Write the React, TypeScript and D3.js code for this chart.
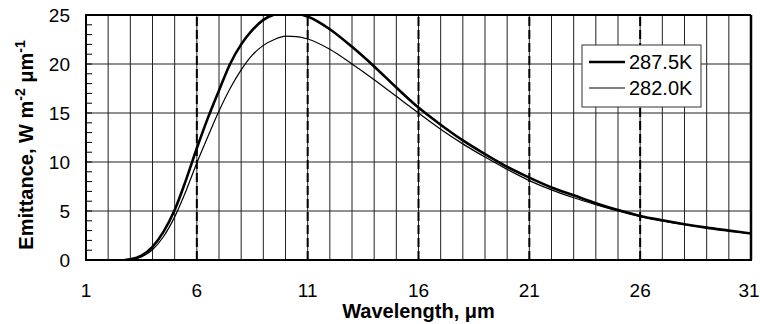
import React from "react";
import * as d3 from "d3";

// wavelength (µm) and emittance (W m-2 µm-1)
const wavelengths = [
  2.75, 3, 3.5, 4, 4.5, 5, 5.5, 6, 6.5, 7, 7.5, 8, 8.5, 9, 9.5, 10, 10.5, 11,
  12, 13, 14, 15, 16, 17, 18, 19, 20, 21, 22, 23, 24, 25, 26, 27, 28, 29, 30, 31,
];
const emit2875 = [
  0, 0.08, 0.45, 1.35, 2.9, 5.1, 8.1, 11.4, 14.5, 17.3, 20.0, 22.0, 23.45, 24.5,
  25.05, 25.25, 25.15, 24.85, 23.55, 21.75, 19.75, 17.6, 15.55, 13.8, 12.2,
  10.8, 9.5, 8.4, 7.4, 6.6, 5.8, 5.1, 4.5, 4.05, 3.65, 3.3, 3.0, 2.7,
];
const emit2820 = [
  0, 0.05, 0.32, 1.05, 2.4, 4.4, 7.0, 9.9, 12.6, 15.2, 17.5, 19.4, 20.9, 21.9,
  22.5, 22.85, 22.8, 22.55, 21.5, 20.0, 18.4, 16.7, 15.0, 13.35, 11.85, 10.5,
  9.25, 8.1, 7.15, 6.35, 5.65, 5.0, 4.45, 4.0, 3.6, 3.27, 2.97, 2.68,
];
const seriesNames = ["287.5K", "282.0K"];
const xTicks = [1, 6, 11, 16, 21, 26, 31];
const yTicks = [0, 5, 10, 15, 20, 25];

const W = 760;
const H = 324;
const FONT = "Arial, 'Liberation Sans', sans-serif";

export default function App() {
  const x = d3.scaleLinear().domain([1, 31]).range([86, 751]);
  const y = d3.scaleLinear().domain([0, 25]).range([260, 15]);

  const line = d3
    .line<number>()
    .x((_, i) => x(wavelengths[i]))
    .y((d) => y(d))
    .curve(d3.curveMonotoneX);

  const minorX = d3.range(2, 31);
  const minorY = d3.range(1, 25);

  return (
    <svg
      width={W}
      height={H}
      style={{ position: "absolute", left: 0, top: 0, background: "#fff" }}
      fontFamily={FONT}
    >
      <defs>
        <clipPath id="plot">
          <rect x={x(1)} y={y(25)} width={x(31) - x(1)} height={y(0) - y(25)} />
        </clipPath>
      </defs>

      {/* vertical grid every 1 µm */}
      {minorX.map((v) => (
        <line
          key={"gx" + v}
          x1={x(v)}
          x2={x(v)}
          y1={y(0)}
          y2={y(25)}
          stroke="#222"
          strokeWidth={1}
        />
      ))}
      {/* horizontal grid */}
      {yTicks.slice(1, -1).map((v) => (
        <line
          key={"gy" + v}
          x1={x(1)}
          x2={x(31)}
          y1={y(v)}
          y2={y(v)}
          stroke="#222"
          strokeWidth={1}
        />
      ))}
      {/* y minor ticks */}
      {minorY.map((v) => (
        <line
          key={"ty" + v}
          x1={x(1)}
          x2={x(1) + 6}
          y1={y(v)}
          y2={y(v)}
          stroke="#000"
          strokeWidth={1}
        />
      ))}
      {/* dashed markers */}
      {xTicks.slice(1, -1).map((v) => (
        <line
          key={"d" + v}
          x1={x(v)}
          x2={x(v)}
          y1={y(0)}
          y2={y(25)}
          stroke="#000"
          strokeWidth={2}
          strokeDasharray="9,4"
        />
      ))}

      <g clipPath="url(#plot)" fill="none" stroke="#000" strokeLinejoin="round">
        <path d={line(emit2820) || ""} strokeWidth={1.2} />
        <path d={line(emit2875) || ""} strokeWidth={2.6} />
      </g>

      {/* frame */}
      <line x1={x(1)} x2={x(31)} y1={y(25)} y2={y(25)} stroke="#000" strokeWidth={2} />
      <line x1={x(31)} x2={x(31)} y1={y(25)} y2={y(0)} stroke="#000" strokeWidth={2.5} />
      <line x1={x(1)} x2={x(1)} y1={y(25) - 1} y2={y(0) + 1} stroke="#000" strokeWidth={2} />
      <line x1={x(1) - 1} x2={x(31) + 1} y1={y(0)} y2={y(0)} stroke="#000" strokeWidth={2} />

      {/* tick labels */}
      {yTicks.map((v) => (
        <text
          key={"ly" + v}
          x={70}
          y={y(v)}
          dy="0.36em"
          textAnchor="end"
          fontSize={19}
        >
          {v}
        </text>
      ))}
      {xTicks.map((v) => (
        <text
          key={"lx" + v}
          x={Math.min(x(v), W - 11)}
          y={297}
          textAnchor="middle"
          fontSize={19}
        >
          {v}
        </text>
      ))}

      {/* axis titles */}
      <text
        x={(x(1) + x(31)) / 2}
        y={318}
        textAnchor="middle"
        fontSize={20}
        fontWeight="bold"
      >
        Wavelength, μm
      </text>
      <text
        transform="translate(33,145) rotate(-90)"
        textAnchor="middle"
        fontSize={20}
        fontWeight="bold"
      >
        Emittance, W m
        <tspan fontSize={14} dy={-8}>
          -2
        </tspan>
        <tspan dy={8}> μm</tspan>
        <tspan fontSize={14} dy={-8}>
          -1
        </tspan>
      </text>

      {/* legend */}
      <rect x={582} y={45} width={119} height={62} fill="#fff" stroke="#333" strokeWidth={1} />
      {seriesNames.map((name, i) => (
        <g key={name}>
          <line
            x1={589}
            x2={625}
            y1={62 + i * 26}
            y2={62 + i * 26}
            stroke="#000"
            strokeWidth={i === 0 ? 2.6 : 1.2}
          />
          <text x={629} y={62 + i * 26} dy="0.36em" fontSize={20}>
            {name}
          </text>
        </g>
      ))}
    </svg>
  );
}
